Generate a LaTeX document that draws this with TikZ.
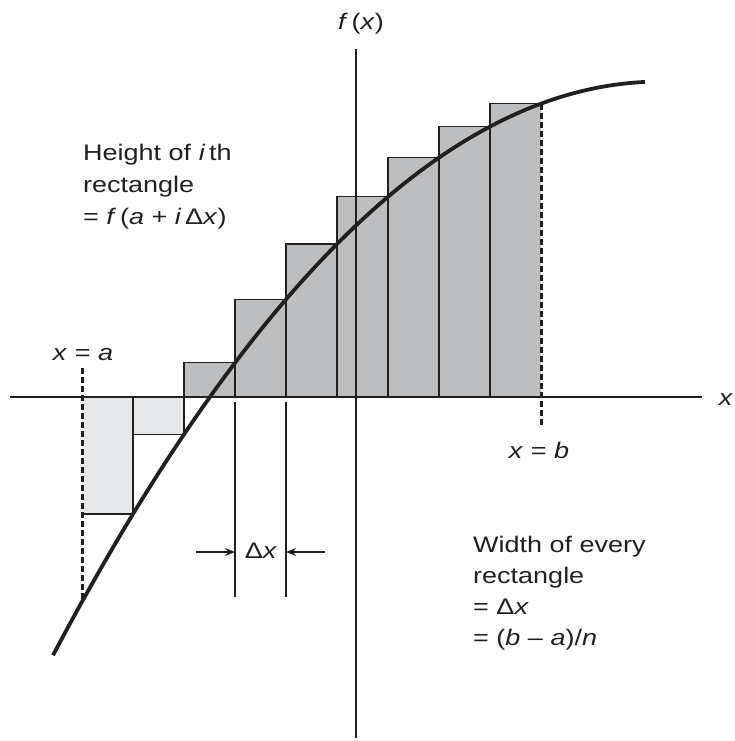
\documentclass[tikz,border=0pt]{standalone}
\usepackage{fontspec}
\setmainfont{Liberation Sans}[FakeStretch=1.2]
\usetikzlibrary{arrows.meta}
\definecolor{ink}{HTML}{231F20}
\definecolor{darkfill}{HTML}{BCBEC0}
\definecolor{lightfill}{HTML}{E6E7E8}
\pgfmathdeclarefunction{cy}{1}{\pgfmathparse{397-(315.4-15.57*((#1-660)/100)^2)}}
\tikzset{
  rectline/.style={ink, line width=1.3pt},
  axisline/.style={ink, line width=1.3pt},
  curveline/.style={ink, line width=3.8pt},
  dashline/.style={ink, line width=3pt, dash pattern=on 6pt off 3pt},
  tickmark/.style={ink, line width=2.6pt},
  lbl/.style={inner sep=0pt, text=ink},
  dimarrow/.style={ink, line width=1.3pt, -{Stealth[length=10pt,width=8pt]}}
}
\begin{document}
\begin{tikzpicture}[x=1pt,y=-1pt, font=\fontsize{22.5}{31}\selectfont]
\useasboundingbox (0,0) rectangle (734,741);
% rectangles
\foreach \i in {1,...,9}{
  \pgfmathsetmacro\xl{82+51*(\i-1)}
  \pgfmathsetmacro\xr{82+51*\i}
  \pgfmathsetmacro\yt{cy(\xr)}
  \ifnum\i<3
    \fill[lightfill] (\xl,397) rectangle (\xr,\yt);
  \else
    \fill[darkfill] (\xl,397) rectangle (\xr,\yt);
  \fi
  \ifnum\i=1
    \draw[rectline] (\xl,\yt) -- (\xr,\yt) -- (\xr,397);
  \else\ifnum\i=9
    \draw[rectline] (\xl,397) -- (\xl,\yt) -- (\xr,\yt);
  \else
    \draw[rectline] (\xl,397) rectangle (\xr,\yt);
  \fi\fi
}
% axes
\coordinate (xs) at (10,397);
\coordinate (xe) at (702,397);
\coordinate (ys) at (356,49);
\coordinate (ye) at (356,738);
\draw[axisline] (xs) -- (xe);
\draw[axisline] (ys) -- (ye);
% ticks
\draw[tickmark] (59,397) -- (67,397);
\draw[tickmark] (645,397) -- (653,397);
\draw[tickmark] (356,684) -- (356,692);
% delta-x guide lines
\coordinate (g1t) at (235,402);
\coordinate (g1b) at (235,597);
\coordinate (g2t) at (286,402);
\coordinate (g2b) at (286,597);
\draw[rectline] (g1t) -- (g1b);
\draw[rectline] (g2t) -- (g2b);
% curve
\draw[curveline, domain=53:645, samples=120, variable=\u] plot (\u,{cy(\u)});
% dashed bounds
\pgfmathsetmacro\ya{cy(82)}
\pgfmathsetmacro\yb{cy(541)}
\coordinate (dat) at (82,368);
\coordinate (dab) at (82,\ya);
\coordinate (dbt) at (541,\yb);
\coordinate (dbb) at (541,425);
\draw[dashline] (dat) -- (dab);
\draw[dashline] (dbt) -- (dbb);
% arrows
\coordinate (al) at (196,552);
\coordinate (ar) at (325,552);
\draw[dimarrow] (al) -- (g1t |- al);
\draw[dimarrow] (ar) -- (g2t |- ar);
% labels
\node[lbl, anchor=base] (fx) at (361,30) {\textit{f}\,(\textit{x})};
\node[lbl, anchor=base] (xlab) at (726,405) {\textit{x}};
\node[lbl, anchor=base] (xa) at (83,360) {\textit{x} = \textit{a}};
\node[lbl, anchor=base] (xb) at (539,458) {\textit{x} = \textit{b}};
\node[lbl, anchor=base] (dx) at (261,558) {Δ\textit{x}};
\node[lbl, anchor=base west] (h1) at (83,160) {Height of \textit{i}\,th};
\node[lbl, anchor=base west] (h2) at (83,192) {rectangle};
\node[lbl, anchor=base west] (h3) at (83,224) {= \textit{f}\,(\textit{a} + \textit{i}\,Δ\textit{x})};
\node[lbl, anchor=base west] (w1) at (473,552) {Width of every};
\node[lbl, anchor=base west] (w2) at (473,583) {rectangle};
\node[lbl, anchor=base west] (w3) at (473,614) {= Δ\textit{x}};
\node[lbl, anchor=base west] (w4) at (473,645) {= (\textit{b} – \textit{a})/\textit{n}};
\end{tikzpicture}
\end{document}
